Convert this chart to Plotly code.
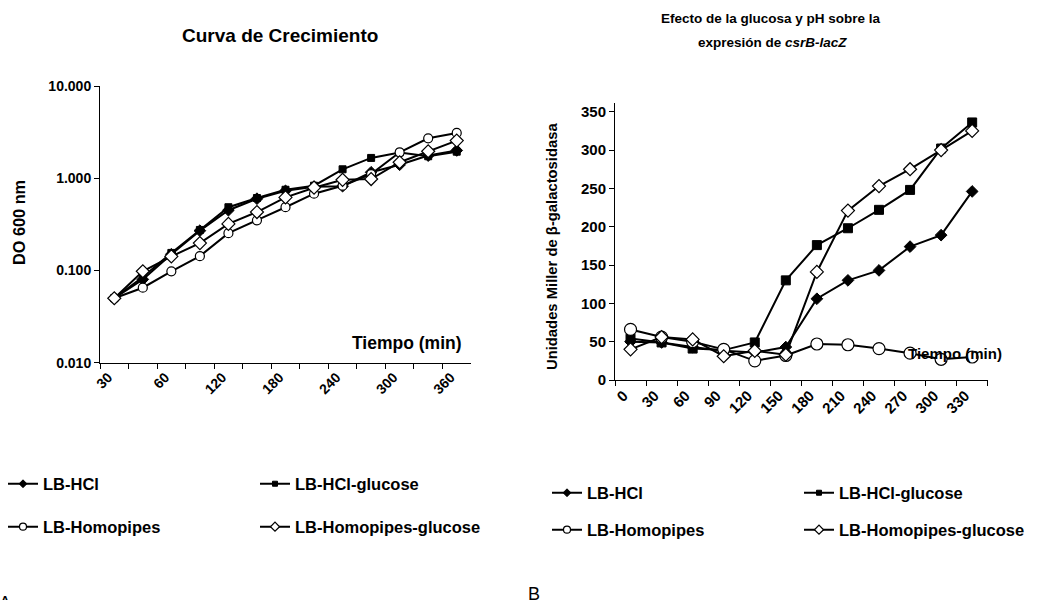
import plotly.graph_objects as go

W, H = 1037, 600

# ---- Data: left chart (growth curve, DO 600 nm) ----
cats_a = ["30", "45", "60", "90", "120", "150", "180", "210", "240", "270", "300", "330", "360"]
labels_a = ["30", "", "60", "", "120", "", "180", "", "240", "", "300", "", "360"]
a_hcl = [0.050, 0.080, 0.150, 0.270, 0.450, 0.600, 0.730, 0.810, 0.820, 1.160, 1.400, 1.760, 2.000]
a_hcl_glu = [0.050, 0.085, 0.155, 0.275, 0.485, 0.610, 0.750, 0.830, 1.250, 1.660, 1.900, 1.730, 1.940]
a_homo = [0.050, 0.065, 0.098, 0.143, 0.254, 0.350, 0.485, 0.680, 0.830, 1.110, 1.910, 2.710, 3.100]
a_homo_glu = [0.050, 0.098, 0.142, 0.198, 0.320, 0.430, 0.620, 0.790, 0.960, 0.980, 1.490, 1.960, 2.560]
ytick_a_vals = [0.01, 0.1, 1, 10]
ytick_a_text = ["0.010", "0.100", "1.000", "10.000"]

# ---- Data: right chart (Miller units) ----
cats_b = ["0", "30", "60", "90", "120", "150", "180", "210", "240", "270", "300", "330"]
b_hcl = [50, 49, 43, 38, 36, 43, 106, 130, 143, 174, 189, 246]
b_hcl_glu = [54, 49, 41, 39, 49, 130, 176, 198, 222, 248, 302, 336]
b_homo = [66, 56, 50, 40, 25, 32, 47, 46, 41, 35, 27, 30]
b_homo_glu = [40, 56, 53, 31, 38, 33, 141, 221, 253, 275, 300, 325]

names = ["LB-HCl", "LB-HCl-glucose", "LB-Homopipes", "LB-Homopipes-glucose"]

FONT = "Liberation Sans, Arial, sans-serif"


def px_x(p):
    return p / W


def px_y(p):
    return 1 - p / H


styles = [
    dict(symbol="diamond", color="black", line=dict(color="black", width=1)),
    dict(symbol="square", color="black", line=dict(color="black", width=1)),
    dict(symbol="circle", color="white", line=dict(color="black", width=1.2)),
    dict(symbol="diamond", color="white", line=dict(color="black", width=1.2)),
]
sizes_a = [9, 7, 9, 10]
sizes_b = [9, 9, 12, 10]
sizes_leg = [6, 5, 7, 7]

fig = go.Figure()

series_a = [a_hcl, a_hcl_glu, a_homo, a_homo_glu]
series_b = [b_hcl, b_hcl_glu, b_homo, b_homo_glu]
leg_a = ["legend", "legend", "legend2", "legend2"]
leg_b = ["legend3", "legend3", "legend4", "legend4"]

for i, (nm, ys) in enumerate(zip(names, series_a)):
    fig.add_trace(go.Scatter(
        x=cats_a, y=ys, name=nm, mode="lines+markers",
        line=dict(color="black", width=2),
        marker=dict(size=sizes_a[i], **styles[i]),
        xaxis="x", yaxis="y", showlegend=False, cliponaxis=False,
    ))

for i, (nm, ys) in enumerate(zip(names, series_b)):
    fig.add_trace(go.Scatter(
        x=cats_b, y=ys, name=nm, mode="lines+markers",
        line=dict(color="black", width=2),
        marker=dict(size=sizes_b[i], **styles[i]),
        xaxis="x2", yaxis="y2", showlegend=False, cliponaxis=False,
    ))

# legend-only entries (small markers like the reference legend keys)
for legs, xa, ya in ((leg_a, "x", "y"), (leg_b, "x2", "y2")):
    for i, nm in enumerate(names):
        fig.add_trace(go.Scatter(
            x=[None], y=[None], name=nm, mode="lines+markers",
            line=dict(color="black", width=2),
            marker=dict(size=sizes_leg[i], **styles[i]),
            xaxis=xa, yaxis=ya, legend=legs[i], showlegend=True,
        ))

tickfont_a = dict(family=FONT, size=14, color="black", weight="bold")
tickfont_b = dict(family=FONT, size=15, color="black", weight="bold")
axis_common = dict(showline=True, linecolor="black", linewidth=1, showgrid=False,
                   zeroline=False, ticks="outside", ticklen=5, tickcolor="black")

legfont = dict(family=FONT, size=16.5, color="black", weight="bold")
leg_common = dict(orientation="h", xanchor="left", yanchor="middle",
                  bgcolor="rgba(0,0,0,0)", font=legfont, entrywidthmode="pixels",
                  entrywidth=207, itemclick=False, itemdoubleclick=False,
                  traceorder="normal")

fig.update_layout(
    width=W, height=H,
    margin=dict(l=0, r=0, t=0, b=0, autoexpand=False),
    plot_bgcolor="white", paper_bgcolor="white",
    font=dict(family=FONT, color="black"),
    showlegend=True,
    xaxis=dict(domain=[px_x(100), px_x(471)], anchor="y", type="category",
               categoryorder="array", categoryarray=cats_a,
               tickmode="array", tickvals=cats_a, ticktext=labels_a,
               tickson="boundaries", tickangle=-45, range=[-0.5, 12.5],
               ticklabelshift=-6, tickfont=tickfont_a, **axis_common),
    yaxis=dict(domain=[px_y(362.7), px_y(86)], anchor="x", type="log",
               range=[-2, 1], tickmode="array", tickvals=ytick_a_vals,
               ticktext=ytick_a_text, tickfont=tickfont_a, **axis_common),
    xaxis2=dict(domain=[px_x(615), px_x(987.7)], anchor="y2", type="category",
                categoryorder="array", categoryarray=cats_b,
                tickmode="array", tickvals=cats_b, ticktext=cats_b,
                tickson="boundaries", tickangle=-45, range=[-0.5, 11.5],
                ticklabelshift=-7, tickfont=tickfont_b, **axis_common),
    yaxis2=dict(domain=[px_y(380), px_y(103.3)], anchor="x2", range=[0, 361],
                tickmode="linear", tick0=0, dtick=50, tickfont=tickfont_b,
                **axis_common),
    legend=dict(x=px_x(3), y=px_y(484), **leg_common),
    legend2=dict(x=px_x(3), y=px_y(527), **leg_common),
    legend3=dict(x=px_x(547), y=px_y(493), **leg_common),
    legend4=dict(x=px_x(547), y=px_y(530), **leg_common),
)

ann_font = dict(family=FONT, color="black", weight="bold")


def ann(text, x, y, size, **kw):
    d = dict(text=text, x=px_x(x), y=px_y(y), xref="paper", yref="paper",
             showarrow=False, font=dict(size=size, **ann_font),
             xanchor="center", yanchor="middle")
    d.update(kw)
    fig.add_annotation(**d)


ann("Curva de Crecimiento", 280, 35, 19)
ann("Efecto de la glucosa y pH sobre la", 771, 19, 13.5)
ann("expresión de <i>csrB-lacZ</i>", 772, 42, 13.5)
ann("Tiempo (min)", 407, 343, 17.5)
ann("Tiempo (min)", 955, 353, 15)
ann("DO 600 nm", 19, 223, 16.3, textangle=-90)
ann("Unidades Miller de β-galactosidasa", 552, 247, 14.8, textangle=-90)
fig.add_annotation(text="A", x=px_x(-3), y=px_y(591), xref="paper", yref="paper",
                   showarrow=False, xanchor="left", yanchor="top",
                   font=dict(family=FONT, size=18, color="black"))
fig.add_annotation(text="B", x=px_x(526), y=px_y(582), xref="paper", yref="paper",
                   showarrow=False, xanchor="left", yanchor="top",
                   font=dict(family=FONT, size=18, color="black"))

fig.write_html("out.html", config={"displayModeBar": False},
               post_script="document.body.style.margin='0';")
